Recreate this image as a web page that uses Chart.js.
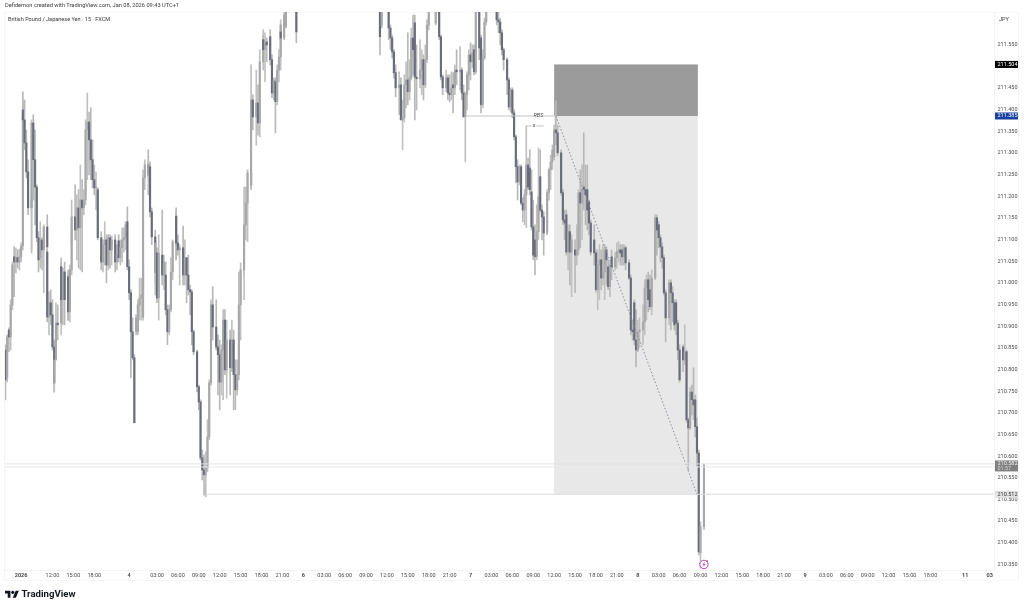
<!DOCTYPE html>
<html><head><meta charset="utf-8">
<style>
html,body{margin:0;padding:0;background:#fff;width:1024px;height:608px;overflow:hidden}
#c{position:absolute;left:0;top:0;z-index:2}
.t{position:absolute;font-family:Roboto,sans-serif;color:#3a3a3a;white-space:nowrap;z-index:3}
#frame{position:absolute;left:4px;top:12px;width:1015px;height:569px;border:1px solid #f5f5f5;box-sizing:border-box;z-index:1}
</style></head><body>
<div id="frame"></div>
<div class="t" style="left:5px;top:2px;font-size:5.7px;line-height:7px">Defidemon created with TradingView.com, Jan 08, 2026 09:43 UTC+1</div>
<div class="t" style="left:8px;top:15.5px;font-size:5.55px;line-height:7px">British Pound / Japanese Yen · 15 · FXCM</div>
<div class="t" style="left:999px;top:15.5px;font-size:5.6px;line-height:7px">JPY</div>
<svg style="position:absolute;left:5px;top:589px;z-index:3" width="14" height="9" viewBox="0 0 36 22"><path fill="#131722" d="M14 22H7V11H0V4h14v18zM28 22h-8l7.5-18h8L28 22z"/><circle fill="#131722" cx="20" cy="8" r="4"/></svg>
<div class="t" style="left:21.5px;top:588px;font-size:9.6px;line-height:12px;font-weight:700;color:#131722">TradingView</div>
<canvas id="c" width="1024" height="608"></canvas>
<script src="https://cdn.jsdelivr.net/npm/chart.js@4"></script>
<script>
const tickSlots=[9,27,39,51,71,87,99,111,123,135,147,159,171,183,195,207,219,231,243,255,267,279,291,303,315,327,339,351,363,375,387,399,411,423,435,447,459,471,483,495,507,519,531,551,565];
const tickLabels=["2026","12:00","15:00","18:00","4","03:00","06:00","09:00","12:00","15:00","18:00","21:00","6","03:00","06:00","09:00","12:00","15:00","18:00","21:00","7","03:00","06:00","09:00","12:00","15:00","18:00","21:00","8","03:00","06:00","09:00","12:00","15:00","18:00","21:00","9","03:00","06:00","09:00","12:00","15:00","18:00","11","03"];
const priceTicks=[211.55,211.5,211.45,211.4,211.35,211.3,211.25,211.2,211.15,211.1,211.05,211,210.95,210.9,210.85,210.8,210.75,210.7,210.65,210.6,210.55,210.5,210.45,210.4,210.35];
const slots=[
0,1,2,3,4,5,6,7,8,9,
10,10,11,12,13,15,15,16,17,18,
19,20,21,22,22,24,24,25,26,27,
28,28,29,30,32,32,33,34,36,36,
37,38,38,40,41,42,43,44,45,46,
47,48,49,50,51,52,53,55,56,57,
58,59,60,61,63,64,65,66,67,68,
69,70,71,72,73,74,75,76,77,78,
79,79,80,82,82,83,84,86,86,87,
88,90,91,92,93,94,95,96,98,98,
99,100,102,103,104,105,106,107,108,110,
111,112,113,114,115,116,117,118,119,121,
122,123,124,125,126,127,129,130,131,132,
133,134,135,137,137,138,139,141,141,142,
144,145,146,146,148,148,149,150,152,153,
154,155,156,157,158,158,160,161,167,215,
216,220,221,222,223,224,226,227,228,229,
230,231,232,233,234,235,236,238,239,240,
241,242,243,247,249,250,251,253,254,255,
256,257,258,259,261,262,263,264,265,266,
267,268,269,270,272,273,274,275,276,282,
283,284,285,286,288,289,290,291,292,293,
294,295,296,297,298,299,300,301,302,303,
304,305,306,307,308,309,311,312,313,314,
315,316,317,319,320,321,322,323,324,325,
327,328,329,330,331,332,333,334,335,336,
338,339,340,341,342,343,344,345,346,347,
348,350,351,352,353,354,355,356,358,359,
360,361,362,363,364,366,367,368,369,370,
371,373,374,375,376,377,378,379,381,382,
383,384,385,386,387,389,390,391,392,393,
394,395,396,397,398,399,401];
const opens=[
210.845,210.781,210.891,210.875,210.949,211.060,211.048,211.058,211.048,211.060,
211.085,211.399,211.376,211.323,211.256,211.173,211.173,211.369,211.284,211.221,
211.104,211.058,211.099,211.076,211.083,211.129,211.071,210.921,210.954,210.926,
210.852,210.769,210.822,210.907,210.907,211.037,210.961,211.025,210.961,211.014,
210.933,211.030,211.099,211.152,211.122,211.173,211.127,211.191,211.173,211.191,
211.353,211.371,211.330,211.284,211.238,211.219,211.215,211.104,211.048,211.088,
211.099,211.041,211.104,211.076,211.099,211.048,211.097,211.058,211.081,211.099,
211.104,211.141,211.037,210.977,210.887,210.827,210.887,210.887,210.949,210.965,
210.972,210.921,211.242,211.272,211.249,211.268,211.164,211.106,211.025,211.069,
210.965,211.064,211.018,211.018,210.938,210.887,210.938,211.025,211.088,211.154,
211.092,211.076,211.081,211.018,211.058,211.018,210.984,210.979,210.887,210.841,
210.760,210.725,210.596,210.568,210.557,210.573,210.644,210.769,210.949,210.898,
210.852,210.834,210.771,210.845,210.914,210.799,210.868,210.804,210.868,210.788,
210.753,210.788,210.949,211.030,211.099,211.134,211.184,211.254,211.226,211.422,
211.383,211.415,211.369,211.445,211.510,211.561,211.538,211.556,211.568,211.515,
211.438,211.464,211.418,211.491,211.521,211.579,211.565,211.591,211.630,211.641,
211.595,211.641,211.588,211.565,211.533,211.485,211.450,211.457,211.376,211.381,
211.457,211.468,211.441,211.473,211.565,211.600,211.475,211.471,211.491,211.515,
211.457,211.515,211.595,211.600,211.641,211.568,211.475,211.450,211.473,211.438,
211.434,211.457,211.450,211.491,211.487,211.491,211.438,211.383,211.434,211.480,
211.526,211.510,211.538,211.487,211.625,211.565,211.411,211.519,211.602,211.641,
211.607,211.602,211.577,211.538,211.515,211.468,211.406,211.445,211.392,211.337,
211.268,211.233,211.268,211.184,211.168,211.203,211.272,211.265,211.210,211.129,
211.099,211.060,211.118,211.245,211.168,211.152,211.115,211.208,211.261,211.279,
211.291,211.353,211.346,211.300,211.208,211.145,211.157,211.071,211.118,211.071,
211.076,211.064,211.076,211.208,211.184,211.221,211.215,211.215,211.187,211.138,
211.099,211.069,210.984,211.041,211.053,211.011,211.025,211.076,211.037,210.991,
211.060,211.037,211.058,211.071,211.076,211.076,211.060,211.081,211.046,211.011,
210.891,210.954,210.868,210.845,210.887,210.891,210.910,210.988,211.007,210.984,
210.945,211.011,211.150,211.134,211.104,211.083,211.058,210.977,210.919,211.000,
210.977,210.954,210.954,210.907,210.845,210.852,210.822,210.841,210.684,210.665,
210.748,210.730,210.730,210.668,210.607,210.377,210.437];
const highs=[
210.857,210.880,210.896,210.961,211.048,211.083,211.081,211.076,211.078,211.092,
211.422,211.441,211.422,211.353,211.284,211.203,211.376,211.388,211.353,211.226,
211.118,211.141,211.104,211.127,211.134,211.157,211.076,210.979,210.984,210.961,
210.868,210.857,210.954,210.949,211.058,211.048,211.034,211.048,211.030,211.025,
211.041,211.122,211.191,211.226,211.203,211.215,211.272,211.238,211.215,211.376,
211.438,211.394,211.404,211.330,211.272,211.256,211.219,211.118,211.099,211.141,
211.111,211.111,211.111,211.108,211.111,211.088,211.111,211.099,211.127,211.127,
211.141,211.175,211.053,210.984,210.919,210.834,210.926,210.961,211.011,211.011,
211.053,211.261,211.284,211.307,211.284,211.279,211.173,211.122,211.099,211.081,
211.111,211.168,211.064,211.048,210.949,210.949,211.058,211.099,211.164,211.173,
211.111,211.088,211.131,211.099,211.058,211.064,210.995,210.984,210.891,210.845,
210.764,210.730,210.614,210.603,210.610,210.684,210.776,210.961,210.991,210.961,
210.880,210.868,210.857,210.938,210.938,210.914,210.891,210.914,210.891,210.822,
210.822,211.025,211.046,211.111,211.221,211.221,211.261,211.256,211.503,211.434,
211.491,211.457,211.457,211.538,211.584,211.572,211.577,211.565,211.584,211.526,
211.473,211.473,211.503,211.538,211.607,211.595,211.635,211.641,211.641,211.648,
211.648,211.648,211.595,211.572,211.538,211.503,211.487,211.473,211.422,211.480,
211.510,211.577,211.515,211.588,211.618,211.618,211.549,211.561,211.538,211.526,
211.549,211.607,211.648,211.648,211.648,211.572,211.480,211.491,211.480,211.480,
211.487,211.485,211.503,211.538,211.545,211.496,211.457,211.441,211.487,211.538,
211.554,211.549,211.549,211.641,211.641,211.572,211.538,211.611,211.648,211.648,
211.630,211.611,211.584,211.542,211.519,211.473,211.450,211.450,211.399,211.341,
211.284,211.272,211.272,211.196,211.215,211.362,211.288,211.307,211.261,211.191,
211.134,211.180,211.311,211.307,211.180,211.164,211.215,211.265,211.295,211.318,
211.364,211.420,211.364,211.307,211.215,211.168,211.168,211.134,211.134,211.111,
211.099,211.134,211.215,211.261,211.272,211.346,211.272,211.272,211.191,211.145,
211.134,211.076,211.076,211.088,211.076,211.088,211.088,211.083,211.053,211.048,
211.076,211.071,211.092,211.095,211.088,211.088,211.088,211.085,211.053,211.018,
210.914,210.961,210.938,210.914,210.919,210.949,211.007,211.018,211.025,211.018,
211.030,211.157,211.157,211.141,211.111,211.092,211.064,210.984,211.007,211.007,
210.991,210.961,210.961,210.914,210.857,210.857,210.903,210.845,210.688,210.758,
210.764,210.804,210.741,210.688,210.614,210.448,210.582];
const lows=[
210.730,210.771,210.841,210.845,210.938,210.968,211.023,211.034,211.030,211.048,
211.076,211.364,211.307,211.242,211.157,211.069,211.076,211.191,211.134,211.095,
211.025,211.034,211.030,210.977,211.076,211.041,210.910,210.880,210.903,210.845,
210.748,210.748,210.822,210.868,210.880,210.914,210.903,210.903,210.914,210.914,
210.910,211.018,211.088,211.099,211.053,211.034,211.030,211.025,211.157,211.180,
211.238,211.249,211.238,211.219,211.203,211.168,211.099,211.030,211.025,211.041,
211.000,211.030,211.034,211.041,211.025,211.030,211.048,211.041,211.048,211.071,
211.076,211.030,210.961,210.781,210.822,210.677,210.880,210.880,210.914,210.914,
210.919,210.914,211.215,211.242,211.203,211.152,211.088,210.995,210.972,210.954,
210.914,210.995,210.984,210.926,210.857,210.880,210.933,211.007,211.053,211.053,
211.064,210.995,210.995,210.995,210.954,210.972,210.926,210.857,210.834,210.748,
210.707,210.591,210.545,210.510,210.506,210.564,210.638,210.764,210.868,210.845,
210.741,210.707,210.741,210.730,210.788,210.734,210.741,210.795,210.707,210.707,
210.741,210.776,210.868,211.018,210.961,211.099,211.095,211.215,211.215,211.353,
211.318,211.341,211.337,211.411,211.491,211.515,211.464,211.510,211.503,211.427,
211.422,211.346,211.411,211.464,211.491,211.533,211.561,211.588,211.554,211.526,
211.588,211.561,211.538,211.519,211.473,211.429,211.388,211.376,211.307,211.371,
211.404,211.411,211.422,211.468,211.480,211.376,211.399,211.450,211.434,211.422,
211.450,211.508,211.584,211.595,211.561,211.468,211.434,211.441,211.422,211.418,
211.422,211.392,211.434,211.457,211.445,211.422,211.383,211.279,211.399,211.445,
211.468,211.496,211.480,211.482,211.515,211.392,211.404,211.515,211.595,211.595,
211.577,211.549,211.526,211.491,211.434,211.399,211.394,211.381,211.330,211.231,
211.191,211.226,211.180,211.141,211.134,211.127,211.215,211.203,211.122,211.053,
211.018,211.053,211.099,211.164,211.099,211.064,211.111,211.191,211.215,211.261,
211.284,211.318,211.293,211.203,211.134,211.099,211.064,211.030,210.995,210.968,
210.977,211.041,211.064,211.081,211.099,211.168,211.134,211.122,211.111,211.064,
211.041,210.979,210.938,210.961,210.984,210.995,210.961,210.995,210.984,210.968,
211.007,211.030,211.034,211.048,211.041,211.041,211.041,211.030,211.007,210.880,
210.868,210.857,210.806,210.841,210.850,210.857,210.880,210.914,210.933,210.938,
210.926,211.007,211.064,211.081,211.048,211.034,210.972,210.864,210.903,210.891,
210.910,210.891,210.880,210.822,210.771,210.795,210.811,210.679,210.568,210.661,
210.695,210.684,210.644,210.577,210.372,210.342,210.430];
const closes=[
210.776,210.875,210.875,210.949,211.041,211.048,211.058,211.048,211.060,211.085,
211.388,211.376,211.323,211.256,211.173,211.191,211.369,211.284,211.221,211.104,
211.053,211.099,211.076,211.092,211.129,211.083,210.921,210.954,210.926,210.852,
210.769,210.822,210.907,210.903,211.037,210.961,211.025,210.961,211.014,210.933,
211.030,211.099,211.152,211.122,211.173,211.127,211.191,211.173,211.191,211.353,
211.371,211.330,211.284,211.238,211.219,211.221,211.104,211.048,211.088,211.099,
211.041,211.104,211.076,211.099,211.048,211.064,211.058,211.081,211.099,211.104,
211.134,211.037,210.977,210.887,210.827,210.677,210.919,210.949,210.965,210.972,
211.041,211.242,211.272,211.249,211.272,211.164,211.106,211.025,211.092,210.965,
211.069,211.018,211.048,210.938,210.887,210.938,211.025,211.095,211.154,211.092,
211.076,211.081,211.018,211.058,211.018,210.984,210.979,210.887,210.841,210.760,
210.725,210.596,210.568,210.557,210.573,210.644,210.769,210.949,210.898,210.852,
210.834,210.771,210.845,210.914,210.799,210.868,210.804,210.868,210.788,210.753,
210.788,210.949,211.030,211.099,211.134,211.184,211.254,211.226,211.422,211.383,
211.415,211.369,211.445,211.510,211.561,211.538,211.556,211.549,211.515,211.438,
211.468,211.418,211.491,211.521,211.595,211.565,211.618,211.625,211.579,211.568,
211.641,211.588,211.565,211.533,211.485,211.450,211.457,211.376,211.381,211.457,
211.468,211.441,211.473,211.565,211.538,211.475,211.471,211.491,211.515,211.457,
211.515,211.595,211.641,211.641,211.568,211.475,211.450,211.473,211.438,211.434,
211.450,211.450,211.491,211.487,211.491,211.438,211.383,211.434,211.480,211.526,
211.510,211.531,211.487,211.625,211.542,211.411,211.519,211.602,211.641,211.607,
211.602,211.577,211.538,211.515,211.468,211.406,211.445,211.392,211.337,211.268,
211.233,211.268,211.184,211.168,211.203,211.272,211.221,211.215,211.129,211.064,
211.060,211.118,211.198,211.168,211.152,211.115,211.208,211.261,211.279,211.307,
211.353,211.346,211.300,211.208,211.145,211.138,211.071,211.118,211.071,211.099,
211.064,211.076,211.208,211.184,211.215,211.215,211.203,211.168,211.138,211.071,
211.069,210.984,211.041,211.053,211.011,211.025,211.076,211.053,210.991,211.041,
211.037,211.058,211.071,211.076,211.069,211.060,211.081,211.046,211.011,210.891,
210.887,210.868,210.845,210.887,210.891,210.910,210.988,211.007,210.961,210.945,
211.011,211.150,211.122,211.104,211.083,211.058,210.977,210.919,211.000,210.977,
210.954,210.903,210.907,210.845,210.776,210.822,210.841,210.684,210.665,210.748,
210.730,210.718,210.668,210.607,210.379,210.437,210.580];

const rangeStart=315, rangeEnd=397.5, rangeTop=211.504, rangeEntry=211.385, rangeBottom=210.512;
const livePrice=210.582, liveShadow=210.575, lowLevel=210.512;
const rbsLevel=211.385, rbsFrom=264, rbsTo=316, minorLevel=211.362, minorFrom=299, minorTo=309;
const pathSlots=[316,397], pathPrices=[211.385,210.512];
const lowFrom=115, axisEnd=567.5, axisStart=-0.25;
const markerSlot=401, markerPrice=210.35;

const overlay={id:'overlay',
 beforeDatasetsDraw(ch){const c=ch.ctx,x=ch.scales.x,y=ch.scales.y;
  const l=x.getPixelForValue(rangeStart),r=x.getPixelForValue(rangeEnd);
  c.save();
  c.fillStyle='#9b9b9b';c.fillRect(l,y.getPixelForValue(rangeTop),r-l,y.getPixelForValue(rangeEntry)-y.getPixelForValue(rangeTop));
  c.fillStyle='#e8e8e8';c.fillRect(l,y.getPixelForValue(rangeEntry),r-l,y.getPixelForValue(rangeBottom)-y.getPixelForValue(rangeEntry));
  c.restore();},
 afterDraw(ch){const c=ch.ctx,x=ch.scales.x,y=ch.scales.y;
  const tag=(v,bg,fg,txt,h)=>{const py=y.getPixelForValue(v);c.fillStyle=bg;c.fillRect(995,py-3.5,23,h||7);c.fillStyle=fg;c.font='5.5px Roboto';c.textAlign='left';c.textBaseline='middle';c.fillText(txt,997.5,py);};
  c.save();
  tag(rangeTop,'#000','#fff','211.504');
  tag(rbsLevel,'#17409f','#fff','211.385');
  tag(lowLevel,'#e3e3e3','#333','210.512');
  tag(livePrice,'#7f7f7f','#f2f2f2','210.582',11);
  c.fillStyle='#d8d8d8';c.fillText('01:57',997.5,y.getPixelForValue(livePrice)+5);
  c.fillStyle='#444';c.font='italic 5.5px Roboto';c.textAlign='center';
  c.fillStyle='#fff';c.fillRect(x.getPixelForValue(306)-5,y.getPixelForValue(rbsLevel)-3,10,6);
  c.fillStyle='#444';c.fillText('RBS',x.getPixelForValue(306),y.getPixelForValue(rbsLevel));
  c.fillStyle='#fff';c.fillRect(x.getPixelForValue(303.5)-2,y.getPixelForValue(minorLevel)-3,4,6);
  c.fillStyle='#444';c.fillText('x',x.getPixelForValue(303.5),y.getPixelForValue(minorLevel));
  const mx=x.getPixelForValue(markerSlot),my=y.getPixelForValue(markerPrice);
  c.beginPath();c.arc(mx,my,4.2,0,Math.PI*2);c.fillStyle='#fff';c.fill();c.lineWidth=1;c.strokeStyle='#b13fc4';c.stroke();
  c.fillStyle='#b13fc4';c.beginPath();c.moveTo(mx+1,my-2.6);c.lineTo(mx-1.6,my+.5);c.lineTo(mx-.1,my+.5);c.lineTo(mx-1,my+2.6);c.lineTo(mx+1.6,my-.5);c.lineTo(mx+.1,my-.5);c.closePath();c.fill();
  c.fillStyle='#e0336c';c.beginPath();c.arc(mx+3.2,my-3.4,.9,0,Math.PI*2);c.fill();
  c.restore();}};

const line=(xs,ys,color,extra)=>Object.assign({type:'line',data:xs.map((s,i)=>({x:s,y:ys[i]})),borderColor:color,borderWidth:1,pointRadius:0,order:0,tension:0},extra||{});
const isUp=i=>closes[i]>=opens[i];
new Chart(document.getElementById('c'),{
 type:'bar',
 data:{datasets:[
  line([axisStart,axisEnd],[livePrice,livePrice],'#e2e2e2'),
  line([axisStart,axisEnd],[liveShadow,liveShadow],'#e8e8e8'),
  line([lowFrom,axisEnd],[lowLevel,lowLevel],'#dcdcdc'),
  line([rbsFrom,rbsTo],[rbsLevel,rbsLevel],'#c4c4c4'),
  line([minorFrom,minorTo],[minorLevel,minorLevel],'#c4c4c4'),
  line(pathSlots,pathPrices,'#8a8fa0',{borderDash:[1.5,2]}),
  {label:'bodies',order:1,grouped:false,barThickness:1.5,borderWidth:0,
   data:slots.map((s,i)=>({x:s,y:[opens[i],closes[i]]})),
   backgroundColor:slots.map((s,i)=>isUp(i)?'#a8a8a8':'#696c7c')},
  {label:'wicks',order:2,grouped:false,barThickness:1,borderWidth:0,
   data:slots.map((s,i)=>({x:s,y:[lows[i],highs[i]]})),
   backgroundColor:slots.map((s,i)=>isUp(i)?'#c0c0c0':'#b8b8b8')}
 ]},
 options:{responsive:false,animation:false,devicePixelRatio:1,
  layout:{padding:{left:5,top:12,right:0,bottom:27}},
  plugins:{legend:{display:false},tooltip:{enabled:false}},
  scales:{
   x:{type:'linear',offset:false,min:axisStart,max:axisEnd,grid:{display:false,drawTicks:false},border:{display:true,color:'#f3f3f3'},
    afterBuildTicks(s){s.ticks=tickSlots.map(v=>({value:v}));},
    afterFit(s){s.height=11;},
    ticks:{autoSkip:false,maxRotation:0,padding:2,color:'#4a4a4a',
     font:(c)=>{const l=tickLabels[c.index]||'';return {family:'Roboto',size:5.5,weight:l.includes(':')?'400':'700'};},
     callback:(v,i)=>tickLabels[i]}},
   y:{position:'right',min:210.3372,max:211.625,grid:{display:false,drawTicks:false},border:{display:true,color:'#f3f3f3'},
    afterBuildTicks(s){s.ticks=priceTicks.map(v=>({value:v}));},
    afterFit(s){s.width=30;},
    ticks:{padding:3.5,color:'#4a4a4a',font:{family:'Roboto',size:5.5},callback:v=>v.toFixed(3)}}
  }},
 plugins:[overlay]
});
</script></body></html>
